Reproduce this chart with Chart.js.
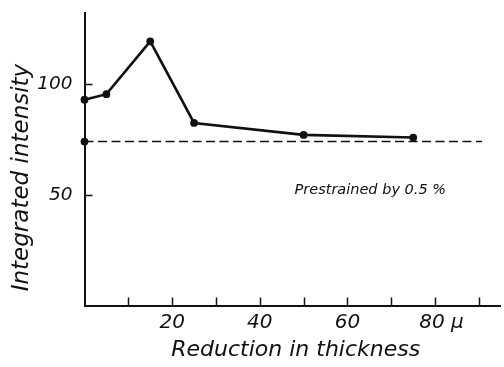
<!DOCTYPE html>
<html>
<head>
<meta charset="utf-8">
<script src="https://cdn.jsdelivr.net/npm/chart.js@4/dist/chart.umd.min.js"></script>
<style>
  html, body { margin: 0; padding: 0; background: #fff; }
  #wrap { width: 504px; height: 367px; }
</style>
</head>
<body>
<div id="wrap"><canvas id="chart" width="504" height="367"></canvas></div>
<script>
// Integrated intensity vs. reduction in thickness (prestrained by 0.5 %)
const reduction = [0, 5, 15, 25, 50, 75];
const intensity = [93, 95.5, 119.4, 82.5, 77.1, 75.9];
const baselineX = [0, 90.7];
const baselineY = [74.1, 74.1];
const xTickLabels = { 20: "20", 40: "40", 60: "60", 80: "  80 \u03bc" };
const yTickLabels = { 50: "50", 100: "100" };
const note = { x: 65.2, y: 52.3, text: "Prestrained by 0.5 %" };

const INK = "#111";
const FONT = "'DejaVu Sans', sans-serif";

// inward tick marks + the free-floating note
const decorations = {
  id: "decorations",
  afterDraw(chart) {
    const { ctx, scales: { x, y } } = chart;
    ctx.save();
    ctx.strokeStyle = INK;
    ctx.lineWidth = 1.5;
    ctx.beginPath();
    for (let v = 10; v <= 90; v += 10) {
      const px = Math.round(x.getPixelForValue(v)) + 0.5;
      ctx.moveTo(px, y.bottom);
      ctx.lineTo(px, y.bottom - 8);
    }
    [50, 100].forEach(v => {
      const py = Math.round(y.getPixelForValue(v)) + 0.5;
      ctx.moveTo(x.left, py);
      ctx.lineTo(x.left + 8, py);
    });
    ctx.stroke();

    ctx.fillStyle = INK;
    ctx.font = "oblique 14.5px " + FONT;
    ctx.textAlign = "center";
    ctx.textBaseline = "middle";
    ctx.fillText(note.text, x.getPixelForValue(note.x), y.getPixelForValue(note.y));
    ctx.restore();
  }
};

new Chart(document.getElementById("chart"), {
  type: "line",
  data: {
    datasets: [
      {
        data: reduction.map((v, i) => ({ x: v, y: intensity[i] })),
        borderColor: INK,
        backgroundColor: INK,
        borderWidth: 2.6,
        pointRadius: 3.9,
        pointBorderWidth: 0,
        tension: 0,
        clip: false
      },
      {
        data: baselineX.map((v, i) => ({ x: v, y: baselineY[i] })),
        borderColor: INK,
        backgroundColor: INK,
        borderWidth: 1.5,
        borderDash: [9, 4.5],
        pointRadius: [3.9, 0],
        pointBorderWidth: 0,
        tension: 0,
        clip: false
      }
    ]
  },
  options: {
    responsive: false,
    animation: false,
    layout: { padding: { top: 13, right: 0, left: 0, bottom: 0 } },
    plugins: { legend: { display: false }, tooltip: { enabled: false } },
    scales: {
      x: {
        type: "linear",
        min: 0,
        max: 94.8,
        afterFit: s => {
          s.height = 61.5;
          s.paddingLeft = 0;
          s.paddingRight = 0;
        },
        grid: { display: false, drawTicks: false, tickLength: 0 },
        border: { display: true, color: INK, width: 2 },
        ticks: {
          stepSize: 10,
          autoSkip: false,
          maxRotation: 0,
          padding: 5,
          color: INK,
          font: { family: FONT, size: 20, style: "oblique" },
          callback: v => xTickLabels[v] || ""
        },
        title: {
          display: true,
          text: " Reduction in thickness",
          color: INK,
          padding: { top: 0, bottom: 4 },
          font: { family: FONT, size: 22, style: "oblique" }
        }
      },
      y: {
        type: "linear",
        min: 0,
        max: 132.2,
        afterFit: s => {
          s.width = 84.5;
          s.paddingTop = 0;
          s.paddingBottom = 0;
        },
        grid: { display: false, drawTicks: false, tickLength: 0 },
        border: { display: true, color: INK, width: 2 },
        ticks: {
          stepSize: 50,
          padding: 12,
          color: INK,
          font: { family: FONT, size: 18.5, style: "oblique" },
          callback: v => yTickLabels[v] || ""
        },
        title: {
          display: true,
          text: "Integrated intensity     ",
          color: INK,
          padding: { top: 8, bottom: 0 },
          font: { family: FONT, size: 23, style: "oblique" }
        }
      }
    }
  },
  plugins: [decorations]
});
</script>
</body>
</html>
